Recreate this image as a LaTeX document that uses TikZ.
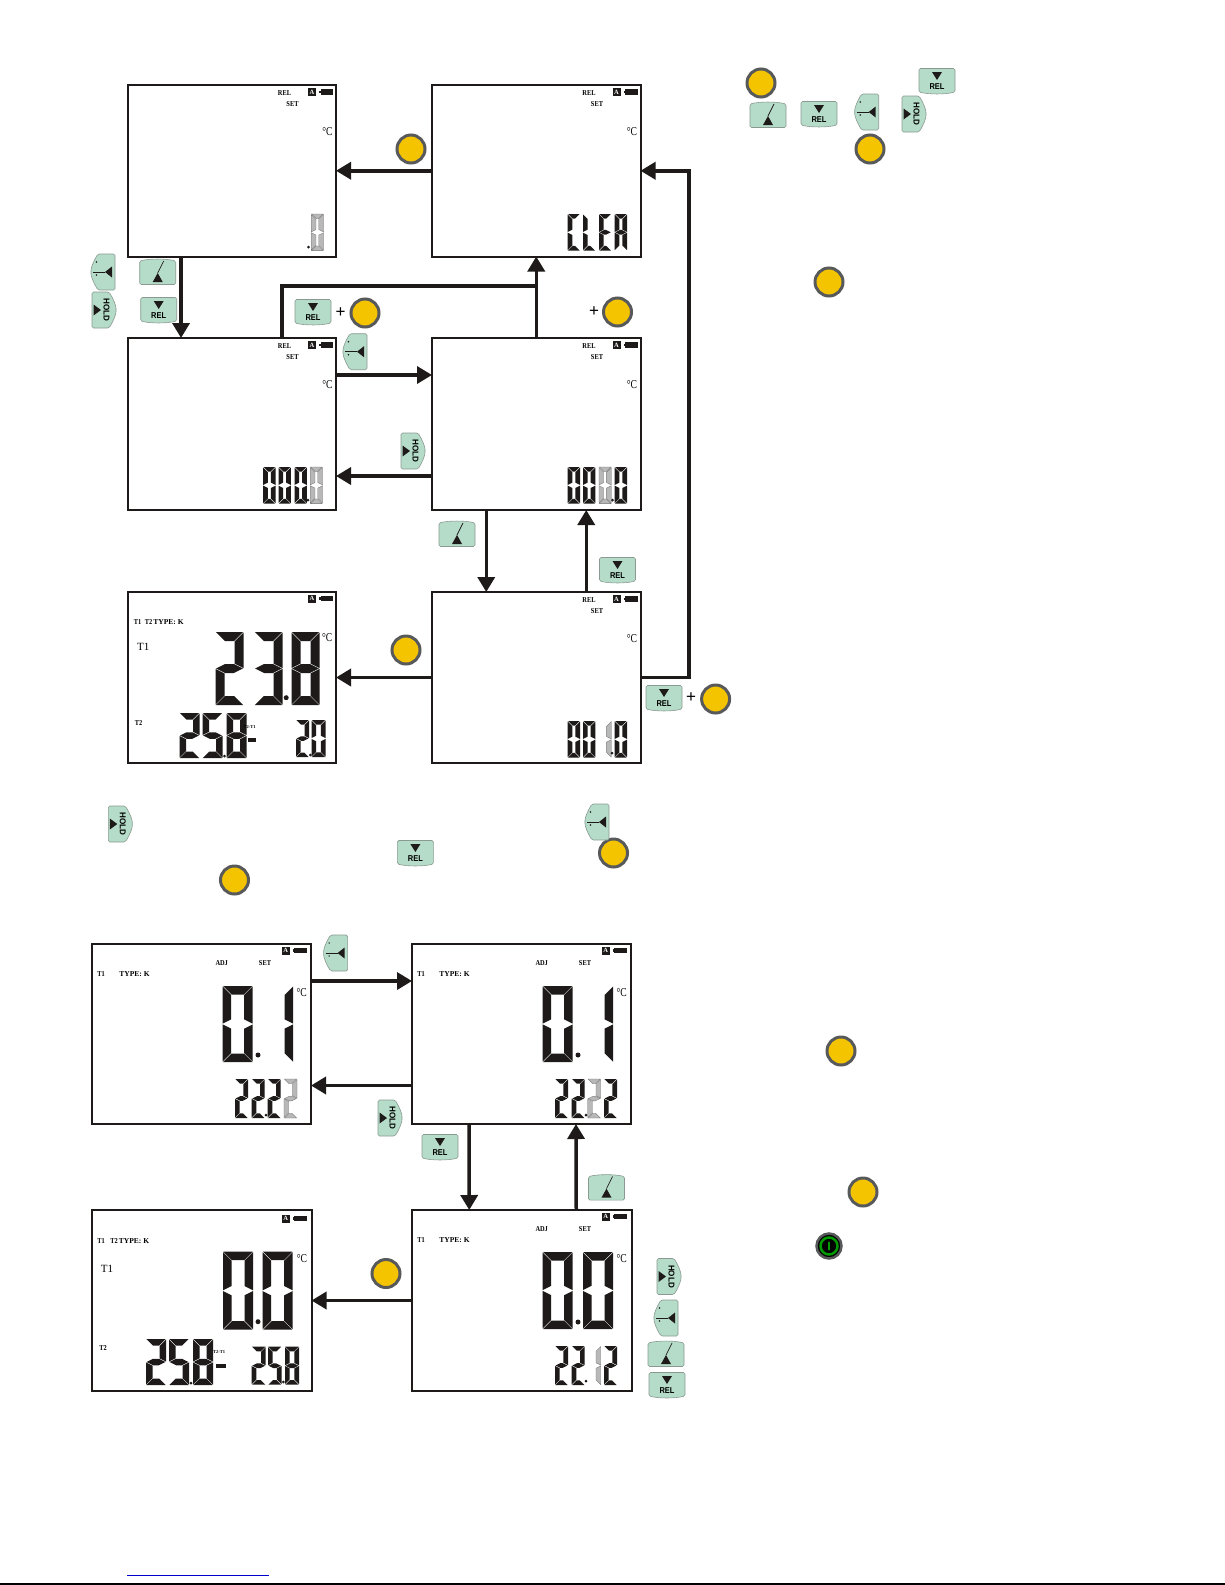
\documentclass[tikz,border=0pt]{standalone}
\usepackage{fontspec}
\setmainfont{Liberation Serif}
\newfontfamily\btnfont{Liberation Sans}
\usetikzlibrary{arrows.meta,calc}
\definecolor{btngreen}{HTML}{B5DCC8}
\definecolor{btnedge}{HTML}{8A9A92}
\definecolor{ringgray}{HTML}{58595B}
\definecolor{ringyellow}{HTML}{F5C400}
\definecolor{inkblack}{HTML}{1E1A1A}
\tikzset{
 screen/.style={draw=inkblack,line width=2pt,fill=white,inner sep=0,outer sep=0},
 arr/.style={draw=inkblack,line width=3.5pt,-{Triangle[length=15pt,width=17pt]}},
 heavy/.style={draw=inkblack,line width=3.5pt},
 ybtn/.style={circle,draw=ringgray,line width=3pt,fill=ringyellow,minimum size=28pt,inner sep=0},
 btnshape/.style={draw=btnedge,line width=.6pt,fill=btngreen},
 tx/.style={font=\fontsize{7.5}{7.5}\selectfont\bfseries,xscale=.85,inner sep=0},
 txw/.style={font=\fontsize{7.5}{7.5}\selectfont\bfseries,inner sep=0},
 tiny/.style={font=\fontsize{4.5}{4.5}\selectfont\bfseries,inner sep=0},
 big/.style={font=\fontsize{11}{11}\selectfont,inner sep=0},
 deg/.style={font=\fontsize{12}{12}\selectfont,xscale=.8,inner sep=0},
 plusn/.style={font=\btnfont\fontsize{17}{17}\selectfont,inner sep=0},
 bt/.style={font=\btnfont\fontsize{8.5}{8.5}\selectfont\bfseries,inner sep=0},
 dk/.style={fill=inkblack},
 gy/.style={fill=black!28,draw=black!55,line width=.3pt},
}
% seven segments
\newcommand\sega{\path[seg] (.4,0)--({\Wd-.4},0)--({\Wd-.4-\Th},\Th)--({.4+\Th},\Th)--cycle;}
\newcommand\segd{\path[seg] (.4,\Ht)--({\Wd-.4},\Ht)--({\Wd-.4-\Th},{\Ht-\Th})--({.4+\Th},{\Ht-\Th})--cycle;}
\newcommand\segf{\path[seg] (0,.5)--(0,{\Ht/2-.4})--(\Th,{\Ht/2-\Th/2-.4})--(\Th,{\Th+.5})--cycle;}
\newcommand\sege{\path[seg] (0,{\Ht-.5})--(0,{\Ht/2+.4})--(\Th,{\Ht/2+\Th/2+.4})--(\Th,{\Ht-\Th-.5})--cycle;}
\newcommand\segb{\path[seg] (\Wd,.5)--(\Wd,{\Ht/2-.4})--({\Wd-\Th},{\Ht/2-\Th/2-.4})--({\Wd-\Th},{\Th+.5})--cycle;}
\newcommand\segc{\path[seg] (\Wd,{\Ht-.5})--(\Wd,{\Ht/2+.4})--({\Wd-\Th},{\Ht/2+\Th/2+.4})--({\Wd-\Th},{\Ht-\Th-.5})--cycle;}
\newcommand\segg{\path[seg] (.6,{\Ht/2})--({.6+\Th},{\Ht/2-\Th/2})--({\Wd-.6-\Th},{\Ht/2-\Th/2})--({\Wd-.6},{\Ht/2})--({\Wd-.6-\Th},{\Ht/2+\Th/2})--({.6+\Th},{\Ht/2+\Th/2})--cycle;}
\newcommand\dg[7]{\begin{scope}[shift={(#1,#2)},seg/.style={#7}]\def\Wd{#3}\def\Ht{#4}\def\Th{#5}\edef\SegList{#6}\foreach \s in \SegList {\csname seg\s\endcsname}\end{scope}}
\def\DZ{a,b,c,d,e,f}\def\DO{b,c}\def\DT{a,b,g,e,d}\def\DH{a,b,g,c,d}\def\DF{a,f,g,c,d}\def\DE{a,b,c,d,e,f,g}
\newcommand\dotp[2]{\fill[inkblack] (#1,#2) circle (1.5);}
\newcommand\dotb[2]{\fill[inkblack] (#1,#2) circle (2.5);}
% status icons; #1 x of A box, #2 y
\newcommand\icons[3]{%
 \node[fill=inkblack,text=white,font=\fontsize{6.5}{6.5}\selectfont\bfseries,inner sep=0,minimum width=8pt,minimum height=8pt] (#1-a) at (#2,#3) {A};
 \fill[inkblack] ({#2+8.5},{#3-2.7}) rectangle ({#2+21},{#3+2.7});
 \fill[inkblack] ({#2+7},{#3-1.2}) rectangle ({#2+8.5},{#3+1.2});
}
\newcommand\scr[5]{\node[screen,anchor=north west,minimum width=#4pt,minimum height=#5pt] (#1) at (#2,#3) {};}
% upper screens: REL SET C and top row digits
\newcommand\upper[1]{%
 \begin{scope}[shift={(#1.north west)}]
 \icons{#1}{184.5}{7}
 \node[tx] (#1-rel) at (157,8) {REL};
 \node[tx] (#1-set) at (165,19) {SET};
 \node[deg] (#1-deg) at (200,47) {°C};
 \end{scope}}
% buttons
\newcommand\btnup[3]{\begin{scope}[shift={(#2,#3)}]
 \coordinate (#1) at (0,0);
 \path[btnshape,rounded corners=1.5pt] (-18,-11) .. controls (-8,-13.5) and (8,-13.5) .. (18,-11) -- (18,12.5) -- (-18,12.5) -- cycle;
 \fill[inkblack] (-5,10)--(5,10)--(0,1)--cycle; \draw[inkblack,line width=.7pt] (0,1)--(6,-11);
 \end{scope}}
\newcommand\btnrel[3]{\begin{scope}[shift={(#2,#3)}]
 \path[btnshape,rounded corners=1.5pt] (-18,-12.5) -- (18,-12.5) -- (18,11) .. controls (8,13.5) and (-8,13.5) .. (-18,11) -- cycle;
 \fill[inkblack] (-5,-9)--(5,-9)--(0,-1)--cycle;
 \node[bt,yscale=1,xscale=.88] (#1) at (0,6) {REL};
 \end{scope}}
\newcommand\btnleft[3]{\begin{scope}[shift={(#2,#3)}]
 \coordinate (#1) at (0,0);
 \path[btnshape,rounded corners=1.5pt] (12,-18) -- (-5,-18) .. controls (-10,-10) and (-12,-4) .. (-12,0) .. controls (-12,4) and (-10,10) .. (-5,18) -- (12,18) -- cycle;
 \fill[inkblack] (2,0)--(9,-5.5)--(9,5.5)--cycle; \draw[inkblack,line width=.6pt] (-10,0)--(2,0);
 \fill[inkblack] (-6.5,-10) circle (.8) (-6.5,3) circle (.8);
 \end{scope}}
\newcommand\btnhold[3]{\begin{scope}[shift={(#2,#3)}]
 \path[btnshape,rounded corners=1.5pt] (-12,-18) -- (5,-18) .. controls (10,-10) and (12,-4) .. (12,0) .. controls (12,4) and (10,10) .. (5,18) -- (-12,18) -- cycle;
 \fill[inkblack] (-10.5,-5.5)--(-10.5,5.5)--(-3,0)--cycle;
 \node[bt,rotate=-90,xscale=.95] (#1) at (2.5,0) {HOLD};
 \end{scope}}
\begin{document}
\begin{tikzpicture}[x=1pt,y=-1pt]
\useasboundingbox[fill=white] (0,0) rectangle (1225,1585);
% ---- screens top
\scr{sA}{127.5}{85}{208.5}{171.5}
\scr{sB}{432}{85}{208.5}{171.5}
\scr{sC}{127.5}{338}{208.5}{172}
\scr{sD}{432}{338}{208.5}{172}
\scr{sE}{127.5}{592}{208.5}{171}
\scr{sF}{432}{592}{208.5}{171}
\scr{sG}{92}{944}{219}{180}
\scr{sH}{412}{944}{219}{180}
\scr{sI}{92}{1210}{219.5}{181}
\scr{sJ}{412}{1210}{219.5}{181}
\upper{sA}\upper{sB}\upper{sC}\upper{sD}\upper{sF}
\def\dy{129}\def\dh{36.6}\def\dw{12.3}\def\dt{4.7}
\begin{scope}[shift={(sA.north west)}]
 \dg{183.7}{\dy}{\dw}{\dh}{\dt}{\DZ}{gy}\dotp{181}{162}
\end{scope}
\begin{scope}[shift={(sB.north west)}]
 \dg{135.7}{\dy}{\dw}{\dh}{\dt}{a,f,e,d}{dk}
 \dg{151}{\dy}{\dw}{\dh}{\dt}{f,e,d}{dk}
 \dg{167}{\dy}{\dw}{\dh}{\dt}{a,f,g,e,d}{dk}
 \dg{182.7}{\dy}{\dw}{\dh}{\dt}{a,b,c,e,f,g}{dk}
\end{scope}
\begin{scope}[shift={(sC.north west)}]
 \dg{135.7}{\dy}{\dw}{\dh}{\dt}{\DZ}{dk}
 \dg{151}{\dy}{\dw}{\dh}{\dt}{\DZ}{dk}
 \dg{167}{\dy}{\dw}{\dh}{\dt}{\DZ}{dk}
 \dg{182.7}{\dy}{\dw}{\dh}{\dt}{\DZ}{gy}\dotp{180.5}{162}
\end{scope}
\begin{scope}[shift={(sD.north west)}]
 \dg{135.7}{\dy}{\dw}{\dh}{\dt}{\DZ}{dk}
 \dg{151}{\dy}{\dw}{\dh}{\dt}{\DZ}{dk}
 \dg{167}{\dy}{\dw}{\dh}{\dt}{\DZ}{gy}
 \dg{182.7}{\dy}{\dw}{\dh}{\dt}{\DZ}{dk}\dotp{180.5}{162}
\end{scope}
\begin{scope}[shift={(sF.north west)}]
 \dg{135.7}{\dy}{\dw}{\dh}{\dt}{\DZ}{dk}
 \dg{151}{\dy}{\dw}{\dh}{\dt}{\DZ}{dk}
 \dg{167}{\dy}{\dw}{\dh}{\dt}{\DO}{gy}
 \dg{182.7}{\dy}{\dw}{\dh}{\dt}{\DZ}{dk}\dotp{180}{161}
\end{scope}
% screen E
\begin{scope}[shift={(sE.north west)}]
 \icons{sE}{184.5}{6.5}
 \node[deg] (sE-deg) at (199.7,46) {°C};
 \node[tx] (sE-t1) at (10,30) {T1};
 \node[tx] (sE-t2) at (21,30) {T2};
 \node[txw] (sE-type) at (41,30) {TYPE: K};
 \node[big] (sE-T1) at (15.7,55) {T1};
 \node[tx] (sE-T2) at (11,130.7) {T2};
 \dg{88}{40}{28}{73}{9}{\DT}{dk}
 \dg{127}{40}{28}{73}{9}{\DH}{dk}
 \dg{164}{40}{28}{73}{9}{\DE}{dk}\dotb{158.7}{105.7}
 \dg{52}{121}{20}{45}{6.5}{\DT}{dk}
 \dg{75}{121}{20}{45}{6.5}{\DF}{dk}
 \dg{99}{121}{20}{45}{6.5}{\DE}{dk}\dotp{97}{164}
 \fill[inkblack] (120,146) rectangle (128,150);
 \node[tiny] (sE-diff) at (122,135) {T2-T1};
 \dg{168.5}{128}{13}{37}{4.5}{\DT}{dk}
 \dg{184}{128}{14}{37}{4.7}{\DZ}{dk}\dotp{182.8}{163}
\end{scope}
% screens G H J
\newcommand\adjtxt[1]{%
 \icons{#1}{193.7}{6.5}
 \node[tx] (#1-adj) at (129.7,19) {ADJ};
 \node[tx] (#1-set) at (173,19) {SET};
 \node[tx] (#1-t1) at (9,30) {T1};
 \node[txw] (#1-type) at (42.5,30) {TYPE: K};
 \node[deg] (#1-deg) at (209.7,48.7) {°C};
}
\begin{scope}[shift={(sG.north west)}]
 \adjtxt{sG}
 \dg{130.7}{42}{30}{76}{8.5}{\DZ}{dk}\dotb{166}{111}
 \dg{171}{42}{30}{76}{8.5}{\DO}{dk}
 \dg{143}{135}{13}{39}{4.7}{\DT}{dk}
 \dg{159.7}{135}{13}{39}{4.7}{\DT}{dk}
 \dg{175.7}{135}{13}{39}{4.7}{\DT}{dk}\dotp{174}{171}
 \dg{192}{135}{13}{39}{4.7}{\DT}{gy}
\end{scope}
\begin{scope}[shift={(sH.north west)}]
 \adjtxt{sH}
 \dg{130.7}{42}{30}{76}{8.5}{\DZ}{dk}\dotb{166}{111}
 \dg{171}{42}{30}{76}{8.5}{\DO}{dk}
 \dg{143}{135}{13}{39}{4.7}{\DT}{dk}
 \dg{159.7}{135}{13}{39}{4.7}{\DT}{dk}
 \dg{175.7}{135}{13}{39}{4.7}{\DT}{gy}\dotp{174}{171}
 \dg{192}{135}{13}{39}{4.7}{\DT}{dk}
\end{scope}
\begin{scope}[shift={(sJ.north west)}]
 \adjtxt{sJ}
 \dg{130.7}{42}{30}{77}{8.5}{\DZ}{dk}\dotb{166}{112}
 \dg{171}{42}{30}{77}{8.5}{\DZ}{dk}
 \dg{143}{136}{13}{39}{4.7}{\DT}{dk}
 \dg{159.7}{136}{13}{39}{4.7}{\DT}{dk}\dotp{174}{171}
 \dg{175.7}{136}{13}{39}{4.7}{\DO}{gy}
 \dg{192}{136}{13}{39}{4.7}{\DT}{dk}
\end{scope}
\begin{scope}[shift={(sI.north west)}]
 \icons{sI}{193.7}{8.5}
 \node[deg] (sI-deg) at (210,49) {°C};
 \node[tx] (sI-t1) at (9,31) {T1};
 \node[tx] (sI-t2) at (22,31) {T2};
 \node[txw] (sI-type) at (42,31) {TYPE: K};
 \node[big] (sI-T1) at (15,59) {T1};
 \node[tx] (sI-T2) at (11,138) {T2};
 \dg{131}{41.7}{30}{78}{8.5}{\DZ}{dk}\dotb{166}{111.7}
 \dg{170.7}{41.7}{30}{78}{8.5}{\DZ}{dk}
 \dg{54}{129}{20}{46}{6.5}{\DT}{dk}
 \dg{77}{129}{20}{46}{6.5}{\DF}{dk}
 \dg{101}{129}{20}{46}{6.5}{\DE}{dk}\dotp{99}{173}
 \fill[inkblack] (124,154) rectangle (134,158);
 \node[tiny] (sI-diff) at (127,142) {T2-T1};
 \dg{159.7}{136.7}{14}{38}{4.7}{\DT}{dk}
 \dg{176}{136.7}{13.5}{38}{4.7}{\DF}{dk}\dotp{191.3}{172}
 \dg{193}{136.7}{14}{38}{4.7}{\DE}{dk}
\end{scope}
% ---- connectors
\draw[arr] (sB.west) -- (sA.east);
\draw[arr] ([xshift=-50.7pt]sA.south) -- ([xshift=-50.7pt]sC.north);
\coordinate (jct) at (536.5,286);
\draw[arr] (sD.north) -- (sB.south);
\draw[heavy] ([xshift=50.3pt]sC.north) |- (jct);
\draw[arr] ([yshift=49pt]sC.east) -- ([yshift=49pt]sD.west);
\draw[arr] ([yshift=-52pt]sD.west) -- ([yshift=-52pt]sC.east);
\draw[arr] ([xshift=-50pt]sD.south) -- ([xshift=-50pt]sF.north);
\draw[arr] ([xshift=50pt]sF.north) -- ([xshift=50pt]sD.south);
\draw[arr] (sF.west) -- (sE.east);
\coordinate (rtrun) at (689,424);
\draw[arr] (sF.east) -| (rtrun) |- (sB.east);
\draw[arr] ([yshift=53pt]sG.east) -- ([yshift=53pt]sH.west);
\draw[arr] ([yshift=-51.5pt]sH.west) -- ([yshift=-51.5pt]sG.east);
\draw[arr] ([xshift=-52.5pt]sH.south) -- ([xshift=-52.5pt]sJ.north);
\draw[arr] ([xshift=54.5pt]sJ.north) -- ([xshift=54.5pt]sH.south);
\draw[arr] (sJ.west) -- (sI.east);
% ---- yellow buttons
\node[ybtn] (y1) at (411,149) {};
\node[ybtn] (y2) at (761,83) {};
\node[ybtn] (y3) at (870,149) {};
\node[ybtn] (y4) at (829,282) {};
\node[ybtn] (y5) at (365,313) {};
\node[ybtn] (y6) at (617.5,312) {};
\node[ybtn] (y7) at (406,650) {};
\node[ybtn] (y8) at (715.6,699) {};
\node[ybtn] (y9) at (613.5,853) {};
\node[ybtn] (y10) at (234.5,880) {};
\node[ybtn] (y11) at (841,1051) {};
\node[ybtn] (y12) at (863,1192) {};
\node[ybtn] (y13) at (386,1273.5) {};
% power button
\node[circle,draw=ringgray,line width=2.5pt,fill=black,minimum size=25pt,inner sep=0] (pw) at (829,1246) {};
\node[circle,draw=green!60!black,line width=2.5pt,fill=black,minimum size=17pt,inner sep=0] (pwi) at (pw) {};
\draw[green!60!black,line width=2.2pt,line cap=round] ([yshift=3.5pt]pw.center) -- ([yshift=-3.5pt]pw.center);
% plus signs
\node[plusn] (p1) at (340.6,313) {+};
\node[plusn] (p2) at (594,312) {+};
\node[plusn] (p3) at (691,698) {+};
% key buttons
\btnup{u1}{157.7}{272}\btnup{u2}{768}{115}\btnup{u3}{457}{534}\btnup{u4}{606.5}{1187.6}\btnup{u5}{666}{1354}
\btnrel{r1}{158.7}{310}\btnrel{r2}{937}{81}\btnrel{r3}{819}{114}\btnrel{r4}{313}{312}\btnrel{r5}{617.5}{570}\btnrel{r6}{664}{698}\btnrel{r7}{415.4}{853}\btnrel{r8}{440}{1147}\btnrel{r9}{667}{1385}
\btnleft{l1}{103}{272}\btnleft{l2}{355}{351.7}\btnleft{l3}{866.7}{112}\btnleft{l4}{597}{822}\btnleft{l5}{335.6}{953}\btnleft{l6}{666}{1318}
\btnhold{h1}{104}{310}\btnhold{h2}{914}{114}\btnhold{h3}{413}{451}\btnhold{h4}{120.3}{824}\btnhold{h5}{390}{1118}\btnhold{h6}{669}{1276.5}
% footer rules
\coordinate (fl1) at (127,1575);\coordinate (fl2) at (269,1575);
\draw[blue!80!black,line width=1pt] (fl1) -- (fl2);
\coordinate (fb1) at (0,1584);\coordinate (fb2) at (1225,1584);
\draw[black,line width=1.2pt] (fb1) -- (fb2);
\end{tikzpicture}
\end{document}
